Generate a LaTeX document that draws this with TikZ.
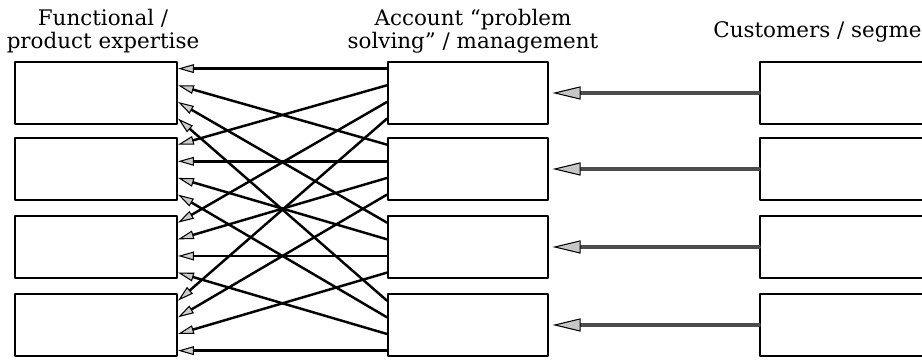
\documentclass[tikz,border=0pt]{standalone}
\usepackage{fontspec}
\setmainfont{DejaVu Serif}
\usetikzlibrary{arrows.meta,calc}

\tikzset{
  box/.style={draw,line width=1.2pt,minimum width=3.24cm,minimum height=1.24cm,inner sep=0pt},
  heading/.style={font=\fontsize{12.2}{12.8}\selectfont,align=center,inner sep=0pt},
  link/.style={line width=1.4pt,-{Triangle[length=9pt,width=5pt,fill=gray!40,line width=0.6pt]}},
  feed/.style={line width=2.2pt,draw=black!70,shorten >=2pt,
    -{Triangle[length=16pt,width=7.5pt,fill=gray!45,color=black,line width=0.6pt]}}
}

\begin{document}
\begin{tikzpicture}[line cap=round,line join=round]
  \useasboundingbox (0,0) rectangle (18.44,7.2);
  \clip (0,0) rectangle (18.44,7.2);
  % column headings
  \node[heading,anchor=north] (hl) at (2.06,7.02) {Functional /\\product expertise};
  \node[heading,anchor=north] (hm) at (9.46,7.02) {Account “problem\\solving” / management};
  \node[heading,anchor=base east] (hr) at (18.44,6.44) {Customers / segme};
  % three columns of boxes
  \foreach \i/\y in {1/5.34,2/3.82,3/2.26,4/0.70} {
    \node[box] (l\i) at (1.92,\y) {};
    \node[box,minimum width=3.2cm] (m\i) at (9.36,\y) {};
    \node[box,minimum width=3.6cm] (r\i) at (17.0,\y) {};
  }
  % customers feed the account boxes
  \foreach \i in {1,...,4}
    \draw[feed] (r\i.west) -- (m\i.east);
  % every account box draws on every expertise box
  \foreach \i/\src in {1/0.12,2/0.38,3/0.64,4/0.9}
    \foreach \j/\dst in {1/0.12,2/0.38,3/0.64,4/0.9}
      \draw[link] ($(m\i.north west)!\dst!(m\i.south west)$)
        -- ($(l\j.north east)!\src!(l\j.south east)$);
\end{tikzpicture}
\end{document}
